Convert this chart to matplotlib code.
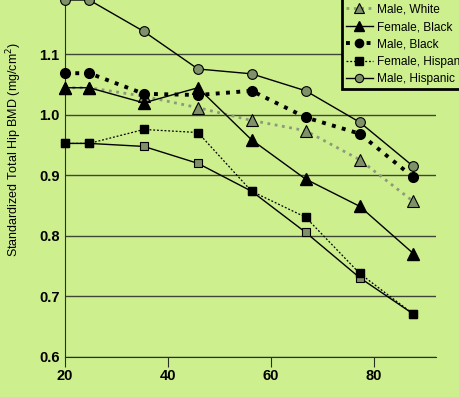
import numpy as np
import matplotlib
matplotlib.use("Agg")
import matplotlib.pyplot as plt

plt.rcParams['font.family'] = ['Liberation Sans', 'DejaVu Sans']

# age (years) at each point
ages = [20, 24.7, 35.3, 45.8, 56.2, 66.7, 77.2, 87.6]

# standardized total hip BMD per group
female_white = [0.953, 0.953, 0.948, 0.920, 0.874, 0.806, 0.731, 0.671]
male_white = [1.045, 1.045, 1.031, 1.012, 0.991, 0.974, 0.926, 0.857]
female_black = [1.045, 1.045, 1.020, 1.045, 0.959, 0.894, 0.849, 0.771]
male_black = [1.069, 1.069, 1.035, 1.033, 1.040, 0.996, 0.969, 0.897]
female_hispanic = [0.953, 0.953, 0.976, 0.971, 0.874, 0.831, 0.738, 0.671]
male_hispanic = [1.19, 1.19, 1.138, 1.076, 1.068, 1.040, 0.988, 0.915]

bg = '#cdef8e'
grey = '#7f9168'

fig = plt.figure(figsize=(4.59, 3.97), dpi=100, facecolor=bg)
ax = fig.add_axes([65 / 459, 40 / 397, 371 / 459, 357 / 397], facecolor=bg)

ax.plot(ages, female_white, '-', color='black', lw=1, marker='s', ms=6,
        mfc=grey, mec='black', mew=0.8, label='Female, White', clip_on=False, zorder=3)
ax.plot(ages, male_white, ':', color='#8c9a7c', lw=2, marker='^', ms=8,
        mfc=grey, mec='black', mew=0.8, label='Male, White', clip_on=False, zorder=3)
ax.plot(ages, female_black, '-', color='black', lw=1, marker='^', ms=8,
        mfc='black', mec='black', label='Female, Black', clip_on=False, zorder=5)
ax.plot(ages, male_black, ':', color='black', lw=2.8, marker='o', ms=7,
        mfc='black', mec='black', label='Male, Black', clip_on=False, zorder=4)
ax.plot(ages, female_hispanic, color='black', lw=0.9, ls=(0, (1.5, 1.5)), marker='s', ms=6,
        mfc='black', mec='black', label='Female, Hispanic', clip_on=False, zorder=4)
ax.plot(ages, male_hispanic, '-', color='black', lw=1, marker='o', ms=7,
        mfc=grey, mec='black', mew=0.8, label='Male, Hispanic', clip_on=False, zorder=3)

ax.set_xlim(20, 92)
ax.set_ylim(0.6, 1.19)
ax.set_xticks([20, 40, 60, 80])
ax.set_yticks([0.6, 0.7, 0.8, 0.9, 1.0, 1.1])
ax.set_yticklabels(['0.6', '0.7', '0.8', '0.9', '1.0', '1.1'])
ax.yaxis.grid(True, color='#3f4638', lw=1)
ax.set_axisbelow(True)
ax.spines['top'].set_visible(False)
ax.spines['right'].set_visible(False)
ax.spines['left'].set_color('#2a2e25')
ax.spines['bottom'].set_color('#2a2e25')
ax.tick_params(axis='x', labelsize=10.5, length=7, pad=2, color='#2a2e25')
ax.tick_params(axis='y', labelsize=10.5, length=0, pad=4)
for lbl in ax.get_xticklabels() + ax.get_yticklabels():
    lbl.set_fontweight('bold')
ax.set_ylabel('Standardized Total Hip BMD (mg/cm$^2$)', fontsize=9)
ax.yaxis.set_label_coords(-0.11, 0.58)

leg = fig.legend(loc='lower left', bbox_to_anchor=(342 / 459, (397 - 89) / 397),
                 fontsize=8.6, handlelength=2.25, labelspacing=0.45, borderaxespad=0,
                 frameon=True, fancybox=False, facecolor=bg, edgecolor='black',
                 handletextpad=0.4, borderpad=0.32, markerscale=0.85)
leg.get_frame().set_linewidth(2)
leg.get_frame().set_alpha(None)

fig.savefig('out.png', dpi=100, facecolor=bg)
